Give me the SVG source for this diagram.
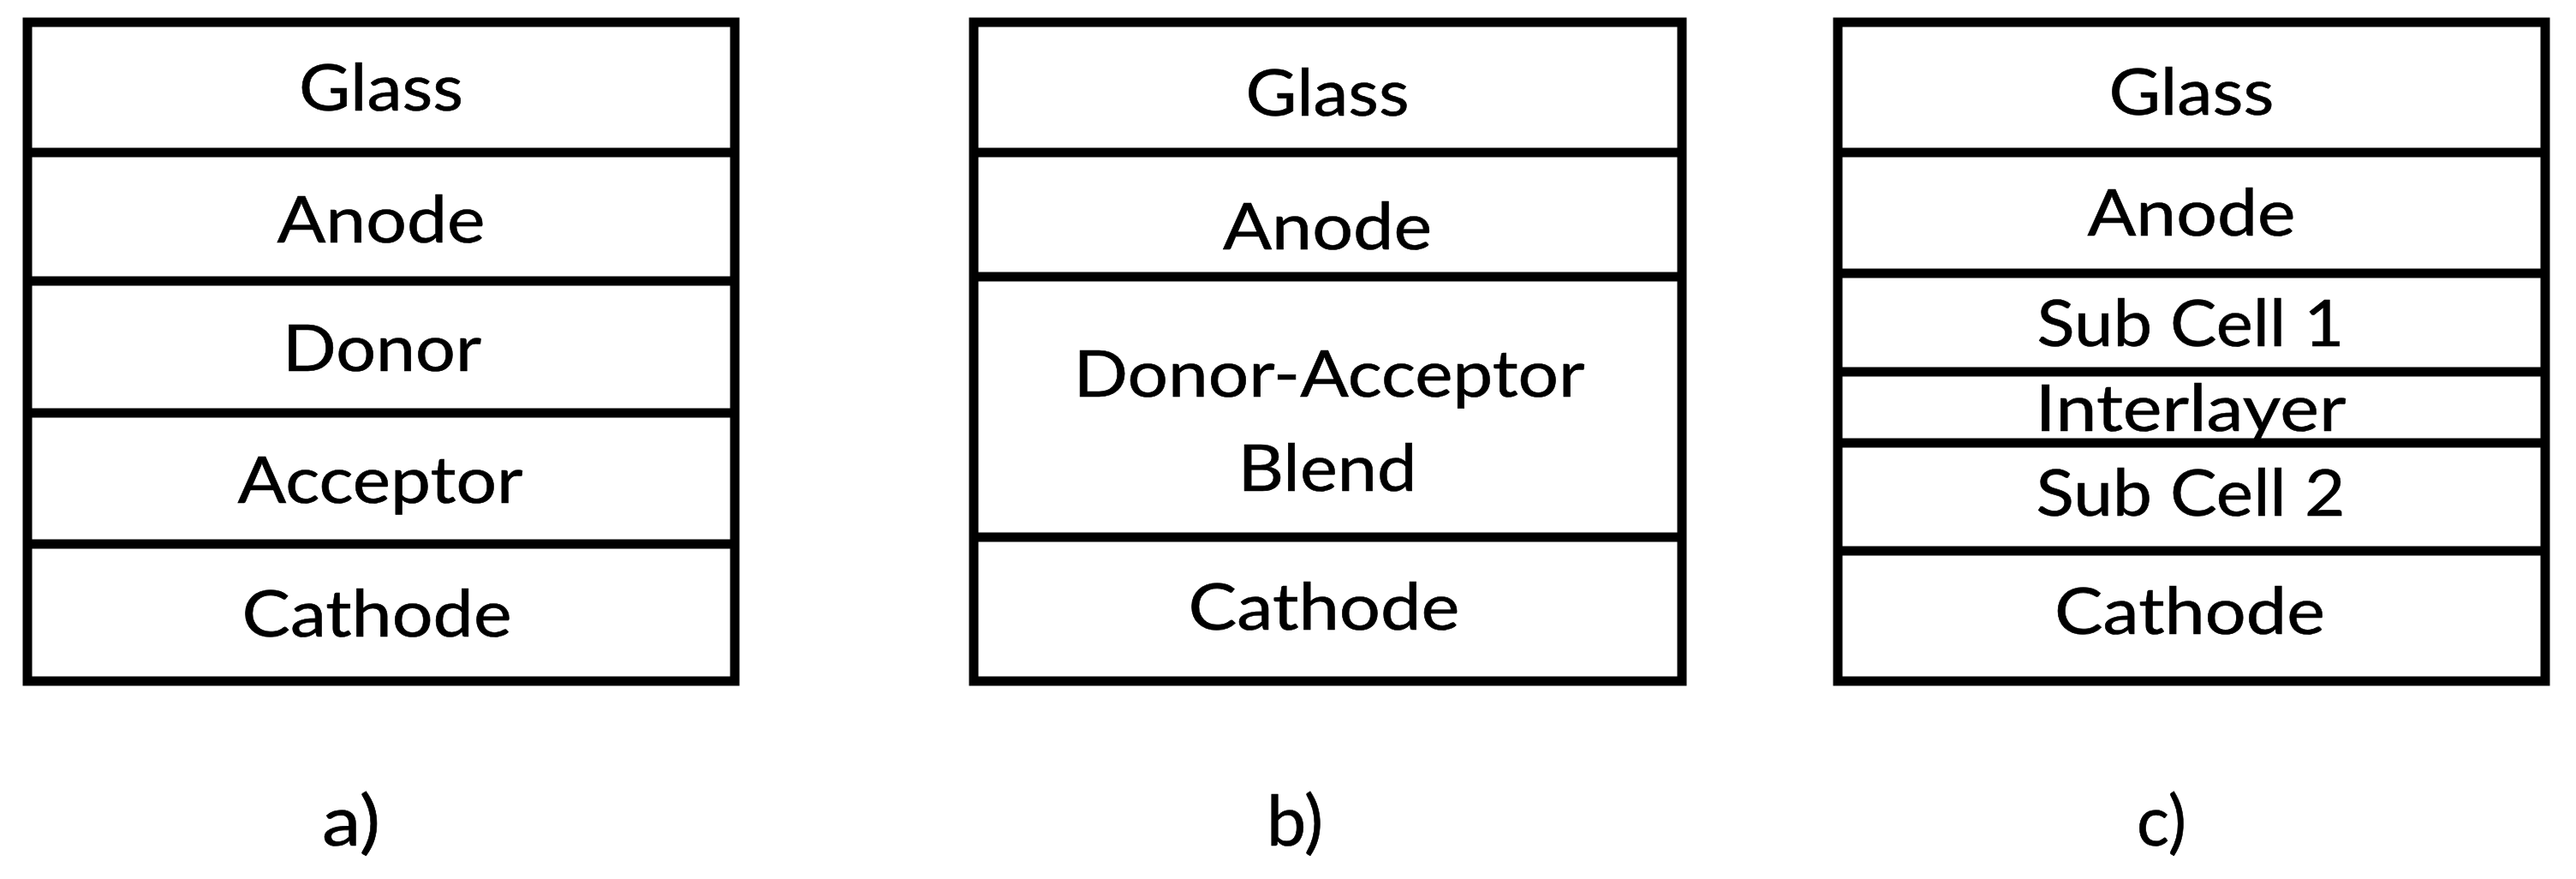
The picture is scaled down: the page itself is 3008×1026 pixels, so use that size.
<svg xmlns="http://www.w3.org/2000/svg" width="3008" height="1026" viewBox="0 0 3008 1026">
<style>
.box{fill:#fff;stroke:#000;stroke-width:11}
.div{stroke:#000;stroke-width:11}
text{font-family:Lato,"Open Sans","Liberation Sans",sans-serif;font-size:76px;fill:#000;stroke:#000;stroke-width:0.6;text-anchor:middle}
.lbl{font-size:82px}
</style>
<rect width="3008" height="1026" fill="#fff"/>
<g id="panel-a">
<rect class="box" x="32" y="26" width="826" height="769"/>
<line class="div" x1="32" y1="178" x2="858" y2="178"/>
<line class="div" x1="32" y1="328" x2="858" y2="328"/>
<line class="div" x1="32" y1="482" x2="858" y2="482"/>
<line class="div" x1="32" y1="635" x2="858" y2="635"/>
<text x="445" y="129" textLength="192" lengthAdjust="spacingAndGlyphs">Glass</text>
<text x="445" y="283" textLength="243" lengthAdjust="spacingAndGlyphs">Anode</text>
<text x="446" y="433" textLength="232" lengthAdjust="spacingAndGlyphs">Donor</text>
<text x="444" y="587" textLength="333" lengthAdjust="spacingAndGlyphs">Acceptor</text>
<text x="440" y="743" textLength="315" lengthAdjust="spacingAndGlyphs">Cathode</text>
<text class="lbl" x="410" y="987" textLength="68" lengthAdjust="spacingAndGlyphs">a)</text>
</g>
<g id="panel-b">
<rect class="box" x="1137" y="26" width="827" height="769"/>
<line class="div" x1="1137" y1="178" x2="1964" y2="178"/>
<line class="div" x1="1137" y1="323" x2="1964" y2="323"/>
<line class="div" x1="1137" y1="627" x2="1964" y2="627"/>
<text x="1550" y="135" textLength="191" lengthAdjust="spacingAndGlyphs">Glass</text>
<text x="1550" y="291" textLength="244" lengthAdjust="spacingAndGlyphs">Anode</text>
<text x="1552" y="463" textLength="597" lengthAdjust="spacingAndGlyphs">Donor-Acceptor</text>
<text x="1550" y="573" textLength="209" lengthAdjust="spacingAndGlyphs">Blend</text>
<text x="1546" y="735" textLength="317" lengthAdjust="spacingAndGlyphs">Cathode</text>
<text class="lbl" x="1512" y="987" textLength="66" lengthAdjust="spacingAndGlyphs">b)</text>
</g>
<g id="panel-c">
<rect class="box" x="2146" y="26" width="826" height="769"/>
<line class="div" x1="2146" y1="178" x2="2972" y2="178"/>
<line class="div" x1="2146" y1="319" x2="2972" y2="319"/>
<line class="div" x1="2146" y1="434" x2="2972" y2="434"/>
<line class="div" x1="2146" y1="517" x2="2972" y2="517"/>
<line class="div" x1="2146" y1="643" x2="2972" y2="643"/>
<text x="2559" y="134" textLength="193" lengthAdjust="spacingAndGlyphs">Glass</text>
<text x="2559" y="275" textLength="243" lengthAdjust="spacingAndGlyphs">Anode</text>
<text x="2558" y="404" textLength="359" lengthAdjust="spacingAndGlyphs">Sub Cell 1</text>
<text x="2558" y="503" textLength="363" lengthAdjust="spacingAndGlyphs">Interlayer</text>
<text x="2558" y="602" textLength="361" lengthAdjust="spacingAndGlyphs">Sub Cell 2</text>
<text x="2557" y="740" textLength="316" lengthAdjust="spacingAndGlyphs">Cathode</text>
<text class="lbl" x="2524" y="987" textLength="58" lengthAdjust="spacingAndGlyphs">c)</text>
</g>
<g id="connectors"/>
</svg>
